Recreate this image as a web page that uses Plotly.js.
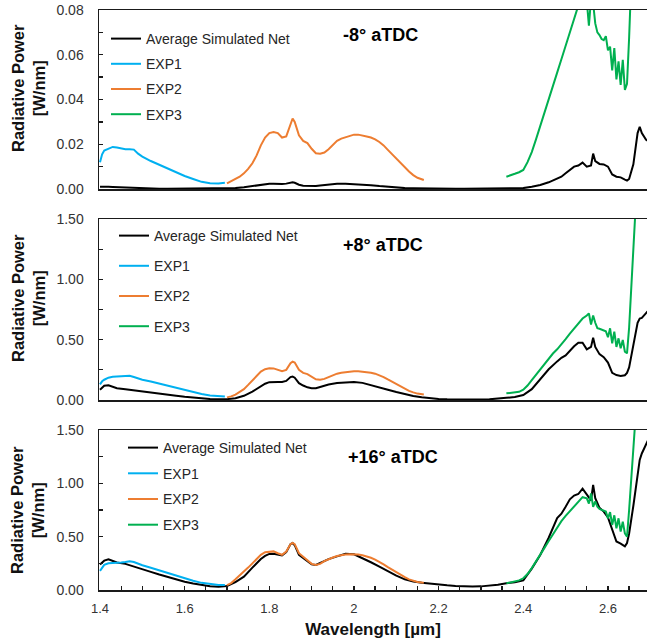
<!DOCTYPE html>
<html>
<head>
<meta charset="utf-8">
<script src="https://cdn.plot.ly/plotly-3.0.1.min.js"></script>
<style>html,body{margin:0;padding:0;background:#fff;}#chart{width:647px;height:643px;}</style>
</head>
<body>
<div id="chart"></div>
<script>
// ---- wavelength grids [µm] ----
const simWl = [1.40,1.41,1.42,1.43,1.44,1.46,1.48,1.50,1.52,1.54,
  1.56,1.58,1.60,1.62,1.64,1.66,1.68,1.70,1.72,1.74,
  1.76,1.78,1.79,1.80,1.81,1.82,1.83,1.84,1.85,1.855,
  1.86,1.87,1.88,1.89,1.90,1.91,1.92,1.94,1.96,1.98,
  2.00,2.02,2.04,2.06,2.08,2.10,2.12,2.14,2.16,2.18,
  2.20,2.22,2.24,2.26,2.28,2.30,2.32,2.34,2.36,2.38,
  2.40,2.42,2.44,2.46,2.48,2.49,2.50,2.51,2.52,2.53,
  2.54,2.55,2.56,2.565,2.57,2.58,2.59,2.60,2.61,2.62,
  2.63,2.64,2.645,2.65,2.66,2.67,2.675,2.68,2.69,2.70];
const exp1Wl = [1.400,1.405,1.41,1.42,1.43,1.44,1.45,1.46,1.47,1.48,
  1.49,1.50,1.52,1.54,1.56,1.58,1.60,1.62,1.64,1.66,1.68,1.695];
const exp2Wl = [1.70,1.71,1.72,1.73,1.74,1.75,1.76,1.77,1.78,1.79,
  1.80,1.81,1.82,1.83,1.84,1.85,1.855,1.86,1.87,1.88,
  1.89,1.90,1.91,1.92,1.93,1.94,1.95,1.96,1.97,1.98,
  1.99,2.00,2.01,2.02,2.03,2.04,2.05,2.06,2.07,2.08,
  2.09,2.10,2.11,2.12,2.13,2.14,2.15,2.165];
const exp3Wl = [2.36,2.37,2.38,2.39,2.40,2.41,2.42,2.43,2.44,2.45,
  2.46,2.47,2.48,2.49,2.50,2.51,2.52,2.53,2.54,2.55,
  2.555,2.56,2.565,2.57,2.575,2.58,2.585,2.59,2.595,2.60,
  2.605,2.61,2.615,2.62,2.625,2.63,2.635,2.64,2.645,2.65,
  2.655,2.66,2.665,2.67];

// ---- -8° aTDC [W/nm] ----
const simM8 = [0.0010,0.0011,0.0010,0.0009,0.0008,0.0006,0.0004,0.0003,0.0002,0.0001,
  0.0001,0.0001,0.0001,0.0001,0.0001,0.0001,0.0001,0.0002,0.0004,0.0008,
  0.0014,0.0020,0.0022,0.0023,0.0023,0.0022,0.0022,0.0024,0.0029,0.0030,
  0.0028,0.0019,0.0015,0.0014,0.0013,0.0013,0.0016,0.0021,0.0023,0.0023,
  0.0022,0.0020,0.0017,0.0013,0.0009,0.0006,0.0004,0.0003,0.0002,0.0001,
  0.0001,0.0001,0.0001,0.0001,0.0001,0.0001,0.0001,0.0001,0.0002,0.0003,
  0.0004,0.0010,0.0018,0.0030,0.0045,0.0055,0.0070,0.0085,0.0100,0.0105,
  0.0118,0.0100,0.0105,0.0158,0.0125,0.0112,0.0110,0.0100,0.0065,0.0055,
  0.0052,0.0042,0.0038,0.0045,0.0110,0.0250,0.0278,0.0250,0.0220,0.0210];
const exp1M8 = [0.0120,0.0155,0.0172,0.0180,0.0188,0.0185,0.0180,0.0178,0.0178,0.0176,
  0.0158,0.0145,0.0125,0.0108,0.0090,0.0072,0.0058,0.0045,0.0032,0.0026,0.0025,0.0028];
const exp2M8 = [0.0025,0.0035,0.0045,0.0055,0.0070,0.0090,0.0115,0.0150,0.0195,0.0230,
  0.0250,0.0255,0.0250,0.0230,0.0235,0.0295,0.0315,0.0300,0.0240,0.0215,
  0.0205,0.0180,0.0160,0.0158,0.0163,0.0178,0.0198,0.0215,0.0225,0.0230,
  0.0235,0.0243,0.0243,0.0240,0.0235,0.0230,0.0222,0.0210,0.0195,0.0175,
  0.0155,0.0135,0.0115,0.0095,0.0078,0.0062,0.0050,0.0040];
const exp3M8 = [0.0055,0.0060,0.0068,0.0075,0.0085,0.0120,0.0165,0.0222,0.0280,0.0340,
  0.0395,0.0460,0.0520,0.0580,0.0640,0.0695,0.0760,0.0830,0.0880,0.0840,
  0.0730,0.0850,0.0830,0.0740,0.0700,0.0688,0.0670,0.0665,0.0683,0.0620,
  0.0636,0.0530,0.0630,0.0490,0.0570,0.0465,0.0577,0.0443,0.0470,0.0676,
  0.0850,0.1100,0.1400,0.1700];

// ---- +8° aTDC [W/nm] ----
const simP8 = [0.085,0.118,0.122,0.108,0.098,0.090,0.082,0.073,0.063,0.054,
  0.045,0.036,0.027,0.019,0.012,0.008,0.006,0.007,0.015,0.035,
  0.070,0.115,0.135,0.148,0.152,0.150,0.150,0.158,0.190,0.195,
  0.185,0.140,0.120,0.105,0.098,0.098,0.108,0.128,0.140,0.148,
  0.150,0.142,0.125,0.105,0.085,0.066,0.048,0.033,0.022,0.014,
  0.009,0.006,0.004,0.003,0.003,0.004,0.006,0.010,0.018,0.025,
  0.041,0.090,0.175,0.255,0.320,0.350,0.370,0.410,0.445,0.475,
  0.475,0.420,0.440,0.516,0.440,0.380,0.355,0.310,0.225,0.207,
  0.200,0.205,0.225,0.270,0.450,0.640,0.675,0.680,0.720,0.760];
const exp1P8 = [0.130,0.155,0.168,0.185,0.193,0.195,0.196,0.198,0.200,0.190,
  0.178,0.168,0.153,0.135,0.116,0.098,0.082,0.065,0.050,0.038,0.030,0.028];
const exp2P8 = [0.022,0.030,0.045,0.065,0.090,0.125,0.160,0.200,0.235,0.255,
  0.263,0.262,0.250,0.238,0.250,0.305,0.318,0.310,0.250,0.225,
  0.215,0.190,0.172,0.168,0.175,0.190,0.205,0.218,0.226,0.232,
  0.236,0.238,0.238,0.236,0.232,0.226,0.218,0.205,0.190,0.170,
  0.150,0.130,0.110,0.092,0.076,0.063,0.053,0.045];
const exp3P8 = [0.055,0.058,0.063,0.068,0.085,0.120,0.165,0.210,0.255,0.300,
  0.345,0.385,0.420,0.460,0.505,0.550,0.595,0.640,0.675,0.700,
  0.718,0.625,0.700,0.640,0.595,0.590,0.585,0.575,0.570,0.520,
  0.594,0.470,0.566,0.440,0.511,0.428,0.497,0.400,0.387,0.600,
  0.950,1.250,1.550,1.900];

// ---- +16° aTDC [W/nm] ----
const simP16 = [0.240,0.275,0.288,0.270,0.258,0.245,0.222,0.195,0.170,0.145,
  0.120,0.098,0.077,0.060,0.045,0.035,0.030,0.038,0.075,0.125,
  0.210,0.290,0.320,0.338,0.340,0.330,0.325,0.355,0.430,0.440,
  0.420,0.330,0.300,0.270,0.240,0.235,0.255,0.290,0.315,0.340,
  0.335,0.300,0.260,0.220,0.175,0.135,0.100,0.080,0.068,0.058,
  0.050,0.044,0.038,0.034,0.032,0.034,0.040,0.050,0.063,0.072,
  0.090,0.200,0.328,0.490,0.675,0.715,0.780,0.850,0.885,0.900,
  0.950,0.890,0.840,0.985,0.860,0.770,0.735,0.680,0.560,0.455,
  0.435,0.410,0.440,0.530,0.790,1.100,1.220,1.280,1.360,1.450];
const exp1P16 = [0.180,0.210,0.235,0.250,0.255,0.255,0.258,0.262,0.270,0.262,
  0.245,0.232,0.208,0.183,0.158,0.133,0.108,0.086,0.067,0.054,0.047,0.046];
const exp2P16 = [0.046,0.065,0.100,0.135,0.175,0.210,0.250,0.290,0.330,0.355,
  0.362,0.362,0.345,0.330,0.360,0.430,0.442,0.430,0.345,0.310,
  0.280,0.245,0.235,0.245,0.270,0.290,0.305,0.318,0.328,0.333,
  0.336,0.335,0.332,0.325,0.315,0.302,0.285,0.265,0.240,0.215,
  0.190,0.165,0.140,0.120,0.100,0.085,0.075,0.068];
const exp3P16 = [0.063,0.070,0.080,0.090,0.110,0.150,0.205,0.265,0.330,0.395,
  0.460,0.525,0.590,0.645,0.695,0.740,0.780,0.825,0.870,0.860,
  0.810,0.905,0.780,0.830,0.780,0.760,0.750,0.740,0.735,0.672,
  0.730,0.610,0.700,0.578,0.672,0.547,0.640,0.530,0.500,0.750,
  1.050,1.300,1.550,1.900];

const seriesNames = ['Average Simulated Net','EXP1','EXP2','EXP3'];
const panelLabels = ['-8° aTDC','+8° aTDC','+16° aTDC'];
const yTitle = 'Radiative Power<br>[W/nm]';
const xTitle = 'Wavelength [µm]';

const colors = ['#000000','#00B0F0','#ED7D31','#00B050'];
const panels = [
  {sim: simM8, e1: exp1M8, e2: exp2M8, e3: exp3M8},
  {sim: simP8, e1: exp1P8, e2: exp2P8, e3: exp3P8},
  {sim: simP16, e1: exp1P16, e2: exp2P16, e3: exp3P16}
];

const FONT = 'Liberation Sans, Arial, sans-serif';
const traces = [];
panels.forEach((p, i) => {
  const n = i === 0 ? '' : String(i + 1);
  const xs = [simWl, exp1Wl, exp2Wl, exp3Wl];
  const ys = [p.sim, p.e1, p.e2, p.e3];
  ys.forEach((y, k) => {
    traces.push({
      type: 'scatter', mode: 'lines',
      x: xs[k], y: y,
      name: seriesNames[k],
      line: {color: colors[k], width: 2},
      xaxis: 'x' + n, yaxis: 'y' + n,
      legend: 'legend' + n,
      legendgroup: 'g' + i + '_' + k
    });
  });
});

// layout geometry
const L = 99, T = 10, B = 53, W = 647, H = 643;
const ph = H - T - B, pw = W - L;
const py = v => (H - B - v) / ph;          // pixel y -> paper
const pxp = v => (v - L) / pw;             // pixel x -> paper
const xRange = [1.4 - 1 / 423.3, 1.4 - 1 / 423.3 + pw / 423.3];

const domains = [[py(189), 1], [py(400), py(219)], [0, py(430)]];
const yRanges = [[0, 0.08], [0, 1.5], [0, 1.5]];
const yDt = [0.02, 0.5, 0.5];
const yMinor = [0.01, 0.25, 0.25];

const layout = {
  width: W, height: H,
  margin: {l: L, r: 0, t: T, b: B},
  paper_bgcolor: '#fff', plot_bgcolor: '#fff',
  font: {family: FONT, color: '#262626'},
  showlegend: true,
  annotations: []
};

const axLine = '#1a1a1a';
[0, 1, 2].forEach(i => {
  const n = i === 0 ? '' : String(i + 1);
  const last = i === 2;
  layout['xaxis' + n] = {
    range: xRange, anchor: 'y' + n, domain: [0, 1],
    showline: true, linecolor: axLine, linewidth: 1.5, mirror: true,
    showgrid: false, zeroline: false,
    ticks: last ? 'inside' : '', ticklen: 4, tickcolor: axLine, tickwidth: 1.3,
    tick0: 1.4, dtick: 0.2,
    showticklabels: last,
    tickfont: {size: 13, color: '#333', family: FONT},
    ticklabelstandoff: 6,
    minor: last ? {dtick: 0.05, ticks: 'inside', ticklen: 4, tickcolor: axLine, tickwidth: 1.3} : {},
    title: last ? {text: xTitle, font: {size: 17, family: FONT, color: '#111', weight: 'bold'}, standoff: 8} : {text: ''}
  };
  layout['yaxis' + n] = {
    range: yRanges[i], domain: domains[i], anchor: 'x' + n,
    showline: true, linecolor: axLine, linewidth: 1.5, mirror: false,
    showgrid: false, zeroline: false,
    ticks: 'inside', ticklen: 4, tickcolor: axLine, tickwidth: 1.3,
    tick0: 0, dtick: yDt[i], tickformat: '.2f',
    tickfont: {size: 14, color: '#333', family: FONT},
    ticklabelstandoff: 11,
    minor: {dtick: yMinor[i], ticks: 'inside', ticklen: 4, tickcolor: axLine, tickwidth: 1.3}
  };
});

// legends
const legPos = [[106, 23, 4], [114, 220, 9], [123, 432, 4.5]];
legPos.forEach((lp, i) => {
  const n = i === 0 ? '' : String(i + 1);
  layout['legend' + n] = {
    x: pxp(lp[0]), y: py(lp[1]), xanchor: 'left', yanchor: 'top',
    bgcolor: 'rgba(0,0,0,0)', borderwidth: 0,
    font: {size: 14, color: '#262626', family: FONT},
    traceorder: 'grouped', tracegroupgap: lp[2],
    itemwidth: 30
  };
});

// panel labels and y titles
const labelPos = [[380, 35], [383, 245], [393, 457]];
const yTitlePos = [88, 298, 510];
[0, 1, 2].forEach(i => {
  layout.annotations.push({
    text: panelLabels[i], xref: 'paper', yref: 'paper',
    x: pxp(labelPos[i][0]), y: py(labelPos[i][1]),
    xanchor: 'center', yanchor: 'middle', showarrow: false,
    font: {size: 18, family: FONT, color: '#000', weight: 'bold'}
  });
  layout.annotations.push({
    text: yTitle, xref: 'paper', yref: 'paper',
    x: pxp(28), y: py(yTitlePos[i]),
    xanchor: 'center', yanchor: 'middle', showarrow: false, textangle: -90,
    font: {size: 16.5, family: FONT, color: '#111', weight: 'bold'}
  });
});

Plotly.newPlot('chart', traces, layout, {staticPlot: true, displayModeBar: false});
</script>
</body>
</html>
